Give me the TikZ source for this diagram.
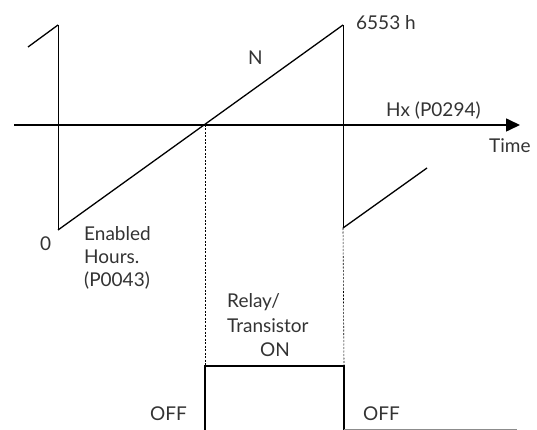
\documentclass[tikz,border=0pt]{standalone}
\usepackage{fontspec}
\setmainfont{Lato}
\usetikzlibrary{arrows.meta,positioning}
\tikzset{
  axisline/.style={line width=1.6pt, -{Triangle[length=14pt,width=13pt]}},
  saw/.style={line width=1.3pt},
  jump/.style={line width=0.9pt},
  guide/.style={dash pattern=on 2pt off 1.5pt, line width=0.6pt},
  relay/.style={line width=2pt},
  lowline/.style={line width=0.8pt, draw=black!45},
  lbl/.style={font=\fontsize{19}{23}\selectfont, inner sep=0pt, text=black!80, anchor=base west}
}
\begin{document}
\begin{tikzpicture}[x=1pt,y=-1pt]
  \useasboundingbox (0,0) rectangle (537,430);

  % time axis
  \coordinate (ax0) at (14,125);
  \coordinate (ax1) at (520,125);
  \draw[axisline] (ax0) -- (ax1);

  % hour counter (sawtooth)
  \coordinate (s0) at (28,47);
  \coordinate (p0) at (58,25);
  \coordinate (z0) at (58,230);
  \coordinate (cross) at (205,125);
  \coordinate (p1) at (343,25);
  \coordinate (z1) at (343,228);
  \coordinate (s1) at (427,168);
  \draw[saw] (s0) -- (p0);
  \draw[jump] (p0) -- (z0);
  \draw[saw] (z0) -- (p1);
  \draw[jump] (p1) -- (z1);
  \draw[saw] (z1) -- (s1);

  % relay output
  \coordinate (r0) at (205,431);
  \coordinate (r1) at (205,366);
  \coordinate (r2) at (344,366);
  \coordinate (r3) at (344,431);
  \coordinate (r4) at (517,429);
  \draw[guide] (cross) -- (r1);
  \draw[guide] (z1) -- (r2);
  \draw[relay] (r0) -- (r1) -- (r2) -- (r3);
  \draw[lowline] (r3 |- r4) -- (r4);

  % labels
  \node[lbl] (peak) at (356,30) {6553 h};
  \node[lbl] (nval) at (248,65) {N};
  \node[lbl] (hx) at (386,117) {Hx (P0294)};
  \node[lbl] (time) at (489,153) {Time};
  \node[lbl] (zero) at (40,250) {0};
  \node[lbl] (en1) at (84,240) {Enabled};
  \node[lbl] (en2) at (84,263) {Hours.};
  \node[lbl] (en3) at (84,286) {(P0043)};
  \node[lbl] (rl1) at (227,307) {Relay/};
  \node[lbl] (rl2) at (227,332) {Transistor};
  \node[lbl] (on) at (260,356) {ON};
  \node[lbl] (off1) at (150,420) {OFF};
  \node[lbl] (off2) at (363,420) {OFF};
\end{tikzpicture}
\end{document}
